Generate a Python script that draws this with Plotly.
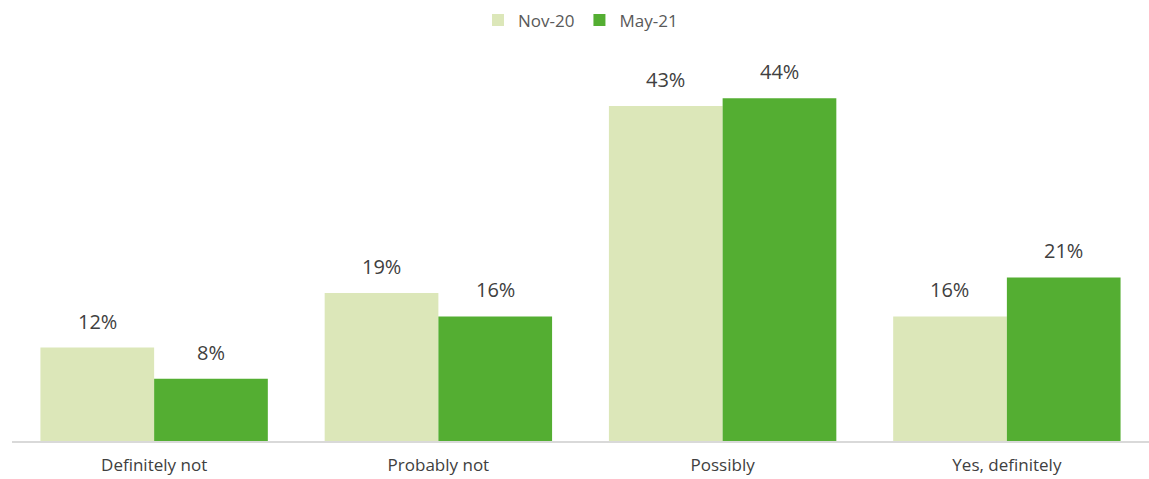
import plotly.graph_objects as go

categories = ["Definitely not", "Probably not", "Possibly", "Yes, definitely"]
nov20 = [12, 19, 43, 16]
may21 = [8, 16, 44, 21]

series = [
    ("Nov-20", nov20, "#DCE7B9", -57),
    ("May-21", may21, "#54AE32", 57),
]

fig = go.Figure()
for name, vals, color, _ in series:
    fig.add_bar(
        x=categories, y=vals, name=name,
        marker=dict(color=color, line=dict(width=0)),
        hoverinfo="x+y+name",
    )

# value labels above each bar
for name, vals, color, dx in series:
    for cat, v in zip(categories, vals):
        fig.add_annotation(
            x=cat, y=v, text=f"{v}%", showarrow=False,
            xshift=dx, yshift=11, yanchor="bottom",
            font=dict(size=20, color="#404040"),
        )

fig.update_layout(
    width=1149, height=479,
    margin=dict(l=12, r=0, t=50, b=38),
    paper_bgcolor="white", plot_bgcolor="white",
    barmode="group", bargap=0.2, bargroupgap=0,
    font=dict(family="Open Sans, Liberation Sans, sans-serif", color="#404040"),
    legend=dict(
        orientation="h", x=0.5, xanchor="center",
        yref="container", y=0.995, yanchor="top",
        font=dict(size=17, color="#595959"), itemwidth=30,
    ),
    xaxis=dict(
        showline=True, linecolor="#D9D9D9", linewidth=1.5,
        ticks="", tickfont=dict(size=17, color="#404040"),
        ticklabelstandoff=8,
    ),
    yaxis=dict(range=[0, 50.2], visible=False),
    showlegend=True,
)

fig.write_html("out.html")
